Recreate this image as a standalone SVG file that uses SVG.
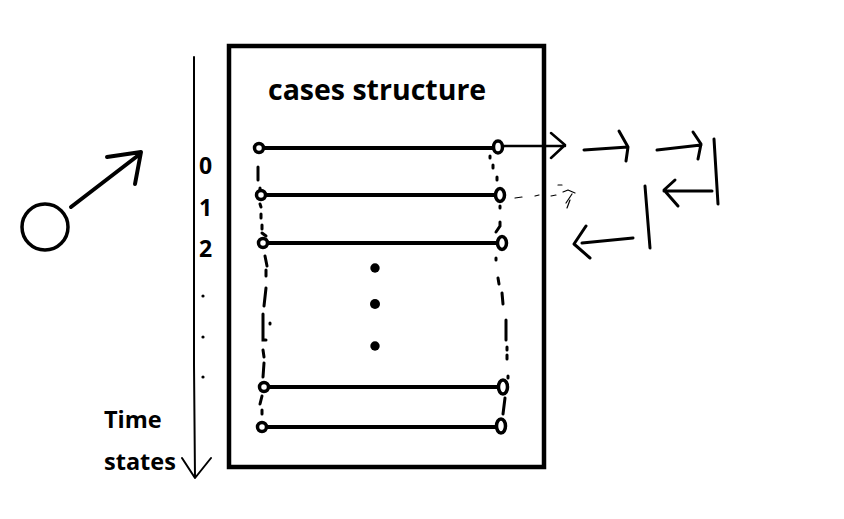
<svg xmlns="http://www.w3.org/2000/svg" width="844" height="519" viewBox="0 0 844 519">
<style>
.s{fill:none;stroke:#000;stroke-linecap:round;stroke-linejoin:round}
.t{font-family:"Open Sans","Liberation Sans",sans-serif;font-weight:bold;fill:#000}
.row{stroke:#000;stroke-width:4;fill:none}
.ln{fill:#fff;stroke:#000;stroke-width:3.5}
.dl{fill:none;stroke:#000;stroke-width:3;stroke-linecap:round}
</style>
<rect width="844" height="519" fill="#fff"/>
<g id="actor">
<circle class="s" cx="45" cy="227" r="23" stroke-width="3.5"/>
<path class="s" stroke-width="4" d="M71 207 L140 154 M107 157 L141 152 L135 184"/>
</g>
<g id="timeline">
<path class="s" stroke-width="2" d="M194 57 L194 365 L195 478 M182 458 L195 478 L211 458"/>
<text class="t" x="199" y="174" font-size="23">0</text>
<text class="t" x="199" y="216" font-size="23">1</text>
<text class="t" x="199" y="257" font-size="23">2</text>
<circle cx="203" cy="296" r="1.6"/>
<circle cx="203" cy="337" r="1.6"/>
<circle cx="203" cy="377" r="1.6"/>
<text class="t" x="104" y="428" font-size="23.5">Time</text>
<text class="t" x="104" y="470" font-size="23.5">states</text>
</g>
<g id="cases">
<rect x="229" y="46" width="315" height="421" fill="none" stroke="#000" stroke-width="4.5"/>
<text class="t" x="268" y="100" font-size="28.5">cases structure</text>
</g>
<g id="connectors">
<path class="dl" d="M258 167 L258 180 M260 188 L260 190" />
<path class="dl" d="M260 204 L261 207 M261 214 L261 218 M262 225 L262 229 M262 233 L266 236"/>
<path class="dl" d="M265 256 L267 266 M266 270 L266 276 M266 288 L264 306 M263 314 L263 340 L266 340 M270 323 L270 324 M263 350 L264 357 M264 363 L263 377"/>
<path class="dl" d="M262 396 L260 404 M262 410 L262 414"/>
<path class="dl" d="M490 156 L490 158 M493 165 L493 168 M497 177 L497 180"/>
<path class="dl" d="M500 206 L500 208 M500 222 L500 226 L496 232"/>
<path class="dl" d="M496 258 L496 260 M498 278 L499 284 M502 293 L503 304 M506 320 L506 340 M507 347 L507 350 M507 355 L507 359"/>
<path class="dl" d="M508 376 L508 378 M505 398 L503 414"/>
<circle cx="375" cy="268" r="4.7"/>
<circle cx="375" cy="304" r="5"/>
<circle cx="375" cy="346" r="4.7"/>
</g>
<g id="row0"><line class="row" x1="259" y1="148" x2="497" y2="148"/><circle class="ln" cx="259" cy="148" r="4.5"/><ellipse class="ln" cx="498" cy="147" rx="4.5" ry="6"/></g>
<g id="row1"><line class="row" x1="261" y1="195" x2="498" y2="195"/><circle class="ln" cx="261" cy="195" r="4.5"/><ellipse class="ln" cx="500" cy="195" rx="4.5" ry="6.5"/></g>
<g id="row2"><line class="row" x1="263" y1="243" x2="501" y2="243"/><circle class="ln" cx="263" cy="243" r="4.5"/><ellipse class="ln" cx="502" cy="243" rx="4.5" ry="6.5"/></g>
<g id="row3"><line class="row" x1="264" y1="387" x2="502" y2="387"/><circle class="ln" cx="264" cy="387" r="4.5"/><ellipse class="ln" cx="503" cy="387" rx="4.5" ry="7"/></g>
<g id="row4"><line class="row" x1="262" y1="427" x2="501" y2="427"/><circle class="ln" cx="262" cy="427" r="4.5"/><ellipse class="ln" cx="501" cy="426" rx="4.5" ry="7"/></g>
<g id="flow">
<path class="s" stroke-width="2.5" d="M504 146 L565 146 M551 133 L565 145 L551 158"/>
<path class="s" stroke-width="3" d="M584 150 L628 147 M619 131 L628 147 L626 161"/>
<path class="s" stroke-width="3" d="M657 150 L701 145 M693 132 L701 144 L698 159"/>
<path class="s" stroke-width="3" d="M714 139 L718 204"/>
<path class="s" stroke-width="3" d="M712 191 L664 191 M675 180 L664 190 L678 206"/>
<path class="s" stroke-width="3" d="M645 186 L650 248"/>
<path class="s" stroke-width="3" d="M633 238 L582 243 M586 226 L574 244 L590 258"/>
<path class="s" stroke-width="1.2" d="M515 198 L522 197 M535 196 L539 195 M551 196 L556 195 M558 185 L562 185 M563 192 L568 190 L575 193 M572 194 L566 203 M570 200 L567 208"/>
</g>
</svg>
